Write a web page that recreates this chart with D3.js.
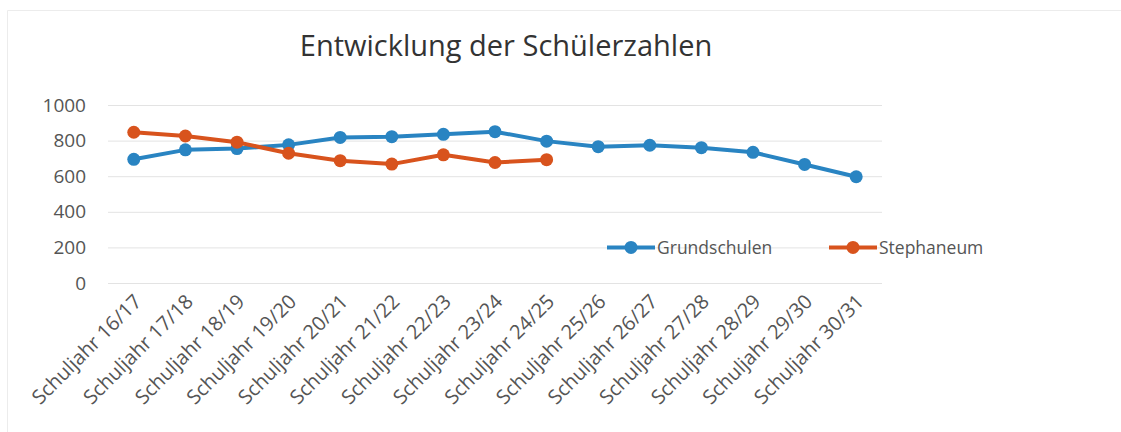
<html>
<head>
<meta charset="utf-8">
<script src="https://cdn.jsdelivr.net/npm/d3@7"></script>
<style>
  body { margin: 0; background: #fff; }
  text { font-family: "Open Sans", "Noto Sans", sans-serif; }
</style>
</head>
<body>
<svg id="chart"></svg>
<script>
const WIDTH = 1121
const HEIGHT = 432
// plot area
const MARGIN = {top: 105, left: 108, bottom: 149, right: 239}

const TITLE = "Entwicklung der Schülerzahlen"
const YEARS = ["16/17", "17/18", "18/19", "19/20", "20/21", "21/22", "22/23", "23/24",
               "24/25", "25/26", "26/27", "27/28", "28/29", "29/30", "30/31"]
const CATEGORIES = YEARS.map(y => "Schuljahr " + y)
const Y_TICKS = [0, 200, 400, 600, 800, 1000]

const GRUNDSCHULEN = [695, 748, 755, 776, 818, 822, 835, 850, 797, 766, 774, 760, 734, 666, 597]
const STEPHANEUM = [847, 826, 791, 729, 687, 668, 720, 677, 693]

const SERIES = [
    {name: "Grundschulen", values: GRUNDSCHULEN, color: "#2984c2"},
    {name: "Stephaneum", values: STEPHANEUM, color: "#d8531d"}
]

const svg = d3.select("#chart").attr("width", WIDTH).attr("height", HEIGHT)

// faint frame of the chart object
svg.append("path")
    .attr("d", `M7.5,${HEIGHT} V10.5 H${WIDTH}`)
    .attr("fill", "none")
    .attr("stroke", "#ececec")

const x = d3.scaleBand()
    .domain(CATEGORIES)
    .range([MARGIN.left, WIDTH - MARGIN.right])

const y = d3.scaleLinear()
    .domain([0, 1000])
    .range([HEIGHT - MARGIN.bottom, MARGIN.top])

const cx = c => x(c) + x.bandwidth() / 2

// gridlines + y labels
const yAxis = d3.axisLeft(y)
    .tickValues(Y_TICKS)
    .tickFormat(d3.format("d"))
    .tickSize(-(WIDTH - MARGIN.left - MARGIN.right))
    .tickPadding(22)

svg.append("g")
    .attr("transform", `translate(${MARGIN.left},0)`)
    .call(yAxis)
    .call(g => g.select(".domain").remove())
    .call(g => g.selectAll("line").attr("stroke", "#e3e3e3"))
    .call(g => g.selectAll("text")
        .attr("fill", "#555")
        .style("font-size", "19px")
        .style("font-family", "'Open Sans', sans-serif"))

// x labels, rotated
const xAxis = d3.axisBottom(x).tickSize(0).tickPadding(0)
svg.append("g")
    .attr("transform", `translate(0,${HEIGHT - MARGIN.bottom})`)
    .call(xAxis)
    .call(g => g.select(".domain").remove())
    .call(g => g.selectAll("text")
        .attr("fill", "#555")
        .style("font-size", "20px")
        .style("font-family", "'Open Sans', sans-serif")
        .attr("text-anchor", "end")
        .attr("dy", "0.35em")
        .attr("transform", "translate(4,15) rotate(-45)"))

// lines + markers
const line = d3.line()
    .x((d, i) => cx(CATEGORIES[i]))
    .y(d => y(d))

SERIES.forEach(s => {
    svg.append("path")
        .datum(s.values)
        .attr("fill", "none")
        .attr("stroke", s.color)
        .attr("stroke-width", 4)
        .attr("stroke-linejoin", "round")
        .attr("d", line)

    svg.append("g")
        .selectAll("circle")
        .data(s.values)
        .join("circle")
            .attr("cx", (d, i) => cx(CATEGORIES[i]))
            .attr("cy", d => y(d))
            .attr("r", 6.5)
            .attr("fill", s.color)
})

// legend
const legendX = [607, 829]
const legendY = y(200)
SERIES.forEach((s, i) => {
    const g = svg.append("g").attr("transform", `translate(${legendX[i]},${legendY})`)
    g.append("line")
        .attr("x1", 0).attr("x2", 48)
        .attr("stroke", s.color).attr("stroke-width", 4)
    g.append("circle").attr("cx", 24).attr("r", 6.5).attr("fill", s.color)
    g.append("text")
        .attr("x", 50)
        .attr("dy", "0.35em")
        .attr("fill", "#555")
        .style("font-size", "17.5px")
        .text(s.name)
})

// title
svg.append("text")
    .attr("x", 506)
    .attr("y", 56)
    .attr("text-anchor", "middle")
    .attr("fill", "#333")
    .style("font-size", "29px")
    .text(TITLE)
</script>
</body>
</html>
